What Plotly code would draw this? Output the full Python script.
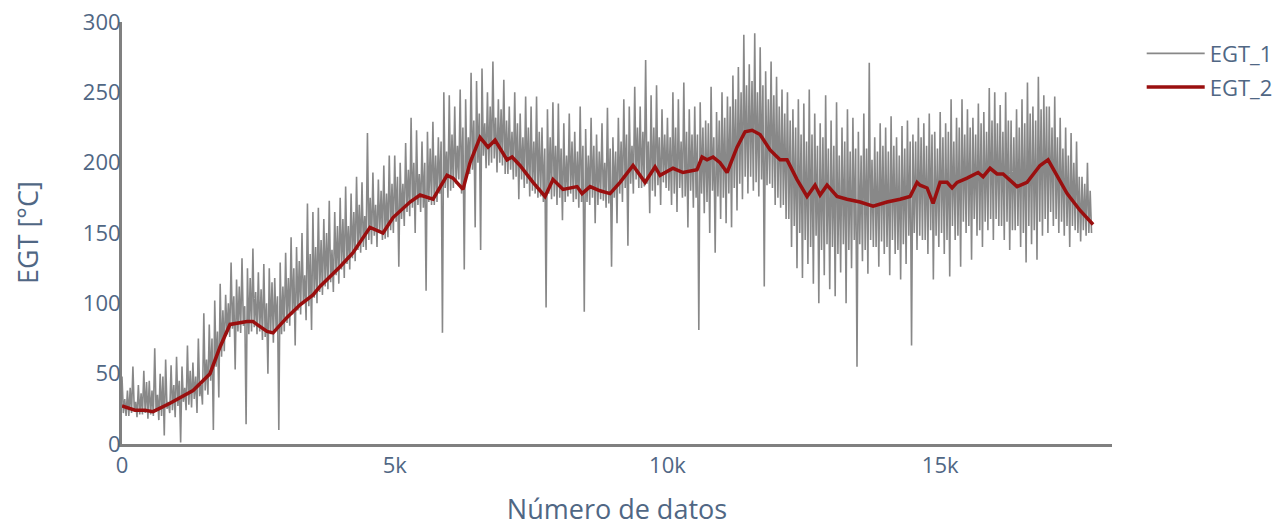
import plotly.graph_objects as go

# ---------------- data ----------------
# EGT_1 raw signal for every block of 100 samples:
# spike maxima, spike minima, and the upper / lower edge of the dense band
egt1_hi = [
    48, 38, 55, 42, 52,   45, 68, 50, 60, 56,   62, 55, 70, 58, 75,
    93, 85, 102, 114, 106,   129, 117, 132, 125, 139,   122, 128, 125, 118, 129,
    136, 147, 140, 150, 171,   165, 168, 160, 173, 165,   175, 183, 178, 190, 186,
    221, 193, 188, 198, 205,   205, 200, 214, 232, 223,   215, 222, 229, 218, 250,
    248, 240, 252, 245, 264,   258, 267, 250, 272, 245,   259, 240, 250, 235, 247,
    240, 247, 225, 238, 243,   242, 228, 235, 222, 240,   224, 232, 220, 228, 239,
    218, 232, 245, 240, 254,   240, 273, 248, 255, 238,   232, 250, 245, 257, 238,
    240, 243, 230, 254, 236,   250, 247, 262, 268, 291,   270, 292, 282, 265, 272,
    261, 252, 250, 238, 245,   242, 252, 235, 228, 248,   230, 243, 225, 238, 232,
    222, 235, 271, 218, 228,   225, 233, 218, 226, 230,   220, 232, 228, 235, 222,
    236, 228, 245, 232, 245,   238, 232, 242, 236, 253,   250, 241, 250, 230, 238,
    245, 257, 240, 261, 248,   240, 247, 232, 225, 221,   215, 190, 200,
]
egt1_lo = [
    20, 22, 19, 21, 18,   20, 17, 6, 22, 19,   1, 24, 26, 22, 28,
    35, 10, 33, 66, 76,   53, 79, 14, 80, 78,   74, 50, 72, 10, 80,
    84, 70, 92, 88, 81,   100, 106, 110, 108, 114,   118, 124, 130, 136, 138,
    142, 140, 145, 147, 150,   126, 155, 162, 150, 165,   109, 170, 172, 79, 175,
    182, 188, 124, 192, 154,   138, 196, 200, 193, 198,   192, 188, 174, 182, 176,
    178, 176, 97, 174, 170,   159, 176, 172, 168, 94,   170, 157, 174, 168, 126,
    157, 172, 141, 178, 182,   183, 164, 176, 170, 182,   170, 165, 175, 154, 168,
    81, 164, 150, 136, 160,   157, 154, 166, 174, 178,   180, 176, 112, 185, 170,
    168, 160, 140, 125, 118,   128, 114, 100, 120, 110,   105, 122, 100, 125, 55,
    130, 121, 140, 126, 135,   120, 135, 117, 128, 70,   138, 145, 135, 117, 140,
    135, 119, 145, 126, 150,   131, 148, 140, 152, 145,   155, 145, 138, 152, 140,
    129, 142, 131, 148, 150,   155, 150, 148, 140, 152,   144, 148, 150,
]
egt1_band_hi = [
    32, 40, 30, 36, 44,   38, 35, 48, 30, 42,   45, 40, 52, 48, 42,
    60, 75, 80, 95, 100,   105, 112, 98, 118, 108,   110, 100, 115, 105, 112,
    118, 125, 130, 120, 135,   140, 145, 150, 138, 155,   160, 155, 165, 170, 162,
    175, 170, 180, 178, 185,   190, 185, 195, 200, 192,   200, 210, 205, 215, 208,
    220, 212, 225, 218, 230,   235, 228, 240, 232, 238,   230, 222, 228, 218, 225,
    215, 222, 210, 218, 212,   210, 205, 215, 208, 212,   205, 212, 208, 200, 210,
    208, 215, 220, 212, 225,   222, 215, 225, 218, 220,   218, 225, 215, 222, 220,
    220, 225, 228, 218, 230,   232, 240, 245, 250, 255,   258, 250, 255, 245, 248,
    240, 235, 230, 225, 220,   215, 220, 212, 218, 210,   212, 205, 215, 208, 210,
    205, 210, 202, 208, 212,   208, 212, 205, 210, 215,   215, 218, 212, 220, 210,
    218, 222, 215, 225, 220,   225, 220, 228, 222, 230,   228, 222, 230, 218, 225,
    228, 235, 230, 238, 240,   225, 218, 210, 205, 200,   190, 185, 180,
]
egt1_band_lo = [
    22, 20, 24, 21, 22,   21, 23, 20, 25, 24,   27, 30, 28, 32, 34,
    38, 45, 55, 62, 78,   82, 80, 84, 78, 83,   80, 76, 78, 82, 78,
    86, 92, 95, 100, 98,   104, 108, 112, 115, 120,   124, 128, 132, 138, 140,
    145, 148, 150, 146, 152,   158, 160, 165, 168, 170,   168, 172, 170, 178, 182,
    180, 185, 178, 190, 195,   200, 205, 198, 203, 200,   192, 195, 190, 188, 185,
    180, 175, 172, 178, 176,   175, 172, 178, 174, 172,   172, 175, 170, 173, 171,
    175, 178, 182, 185, 188,   182, 185, 180, 184, 186,   180, 178, 182, 176, 180,
    175, 178, 172, 180, 176,   175, 178, 182, 185, 190,   190, 186, 188, 184, 182,
    175, 170, 160, 155, 150,   145, 140, 148, 138, 142,   140, 135, 142, 138, 145,
    142, 138, 145, 140, 144,   140, 145, 138, 142, 148,   150, 148, 145, 152, 148,
    150, 145, 155, 148, 158,   155, 160, 152, 158, 160,   160, 155, 158, 152, 155,
    150, 155, 152, 158, 160,   165, 160, 158, 155, 155,   150, 152, 150,
]

# EGT_2 smoothed signal
egt2_x = [0, 238, 422, 568, 880, 1302, 1613, 1797, 1980, 2292, 2402, 2659, 2769,
          3025, 3264, 3502, 3630, 3997, 4235, 4547, 4785, 4969, 5280, 5464, 5702,
          5959, 6069, 6252, 6381, 6564, 6711, 6839, 7059, 7151, 7297, 7536, 7756,
          7902, 8086, 8343, 8434, 8581, 8764, 8947, 9131, 9369, 9589, 9773, 9864,
          10102, 10285, 10542, 10634, 10726, 10836, 10964, 11093, 11276, 11423,
          11551, 11698, 11881, 12064, 12193, 12376, 12559, 12706, 12798, 12926,
          13110, 13293, 13531, 13770, 14026, 14265, 14448, 14576, 14631, 14760,
          14870, 14998, 15126, 15218, 15310, 15493, 15695, 15787, 15915, 16043,
          16153, 16410, 16593, 16831, 16978, 17327, 17565, 17803]
egt2_y = [27, 24, 24, 23, 29, 38, 50, 69, 85, 87, 87, 80, 79,
          90, 99, 106, 112, 126, 136, 154, 150, 161, 172, 177, 174,
          191, 189, 181, 200, 218, 211, 216, 202, 204, 198, 186, 176,
          188, 181, 183, 178, 183, 180, 178, 186, 198, 186, 197, 191,
          196, 193, 195, 204, 202, 204, 200, 193, 211, 222,
          223, 220, 209, 202, 202, 188, 176, 184, 177, 184,
          176, 174, 172, 169, 172, 174, 176, 186, 184, 182,
          171, 186, 186, 182, 186, 189, 193, 190, 196, 192,
          192, 183, 186, 198, 202, 178, 166, 156]

# assemble the raw series: inside every 100-sample block the order is
# spike max, band low, band high, spike min
egt1_x = []
egt1_y = []
for i, (h, bl, bh, l) in enumerate(zip(egt1_hi, egt1_band_lo, egt1_band_hi, egt1_lo)):
    egt1_x += [i * 100, i * 100 + 25, i * 100 + 50, i * 100 + 75]
    egt1_y += [h, bl, bh, l]

# ---------------- figure ----------------
font_color = "#506784"
fig = go.Figure()
fig.add_trace(go.Scatter(x=egt1_x, y=egt1_y, mode="lines", name="EGT_1",
                         legendgroup="a",
                         line=dict(color="#888888", width=1.6)))
fig.add_trace(go.Scatter(x=egt2_x, y=egt2_y, mode="lines", name="EGT_2",
                         legendgroup="b",
                         line=dict(color="#9a0f0f", width=3.5)))

fig.update_layout(
    width=1276, height=519,
    paper_bgcolor="white", plot_bgcolor="white",
    margin=dict(l=114, r=172, t=14, b=83, autoexpand=False),
    font=dict(family="Open Sans, Verdana, Arial, sans-serif", size=22, color=font_color),
    legend=dict(font=dict(size=22, color=font_color), itemwidth=58,
                x=1.03, y=0.975, yanchor="top", tracegroupgap=2,
                traceorder="grouped"),
    showlegend=True,
    annotations=[dict(text="EGT [°C]", textangle=-90, showarrow=False,
                      xref="paper", yref="paper", x=0, y=0.5,
                      xanchor="center", yanchor="middle", xshift=-95,
                      font=dict(size=27, color=font_color))],
)
fig.update_xaxes(
    range=[0, 18150], showgrid=False, zeroline=False, automargin=False,
    showline=True, linecolor="#808080", linewidth=3,
    tickvals=[0, 5000, 10000, 15000], ticktext=["0", "5k", "10k", "15k"],
    ticklabeloverflow="allow",
    tickfont=dict(size=22, color=font_color),
    title=dict(text="Número de datos", font=dict(size=27, color=font_color), standoff=36),
)
fig.update_yaxes(
    range=[0, 300], showgrid=False, zeroline=False, automargin=False,
    showline=True, linecolor="#808080", linewidth=3,
    tickvals=[0, 50, 100, 150, 200, 250, 300],
    ticklabelstandoff=-6, ticklabeloverflow="allow",
    tickfont=dict(size=22, color=font_color),
)

fig.write_html("out.html")
